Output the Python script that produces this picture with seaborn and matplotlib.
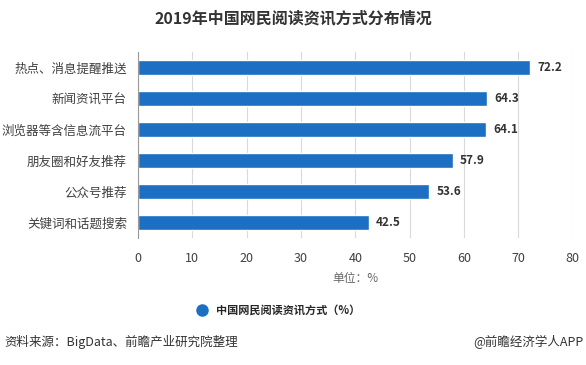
import pandas as pd
import matplotlib.pyplot as plt
import seaborn as sns
from matplotlib.lines import Line2D

# 数据
categories = ['热点、消息提醒推送', '新闻资讯平台', '浏览器等含信息流平台',
              '朋友圈和好友推荐', '公众号推荐', '关键词和话题搜索']
values = [72.2, 64.3, 64.1, 57.9, 53.6, 42.5]
x_ticks = [0, 10, 20, 30, 40, 50, 60, 70, 80]
series_name = '中国网民阅读资讯方式（%）'

df = pd.DataFrame({'方式': categories, '比例': values})

sns.set_style('white')
plt.rcParams['font.family'] = ['Noto Sans CJK SC', 'DejaVu Sans']
plt.rcParams['axes.unicode_minus'] = False

bar_color = '#1c6fc2'
text_color = '#404040'

fig = plt.figure(figsize=(5.86, 3.65), dpi=100)
ax = fig.add_axes([0.2355, 0.348, 0.742, 0.510])

sns.barplot(data=df, x='比例', y='方式', orient='h', color=bar_color,
            width=0.5, saturation=1, ax=ax)

for i, v in enumerate(values):
    ax.text(v + 1.3, i, f'{v}', va='center', ha='left', fontsize=8.5,
            fontweight='bold', color='#333333')

ax.set_xlim(0, 80)
ax.set_xticks(x_ticks)
ax.set_xticklabels([str(t) for t in x_ticks], fontsize=9, color=text_color)
ax.tick_params(axis='y', labelsize=9, labelcolor=text_color, length=4,
               color='#999999', pad=4)
ax.tick_params(axis='x', length=0, pad=10)
ax.xaxis.grid(True, color='#d9d9d9', linewidth=0.8)
ax.set_axisbelow(True)
for s in ['top', 'right', 'bottom']:
    ax.spines[s].set_visible(False)
ax.spines['left'].set_color('#999999')
ax.spines['left'].set_linewidth(0.8)
ax.set_ylabel('')
ax.set_xlabel('单位：%', fontsize=8.5, color='#666666', labelpad=5)

fig.text(0.5, 0.95, '2019年中国网民阅读资讯方式分布情况', ha='center', va='center',
         fontsize=11.5, fontweight='bold', color='#333333')

handle = Line2D([], [], marker='o', linestyle='', markersize=8,
                markerfacecolor=bar_color, markeredgecolor=bar_color)
fig.legend([handle], [series_name], loc='center', bbox_to_anchor=(0.47, 0.15),
           frameon=False, prop={'size': 8, 'weight': 'bold'}, handletextpad=0.3)

fig.text(0.008, 0.063, '资料来源：BigData、前瞻产业研究院整理', ha='left', va='center',
         fontsize=9, color='#333333')
fig.text(0.995, 0.063, '@前瞻经济学人APP', ha='right', va='center',
         fontsize=9, color='#333333')

fig.savefig('out.png', dpi=100)
